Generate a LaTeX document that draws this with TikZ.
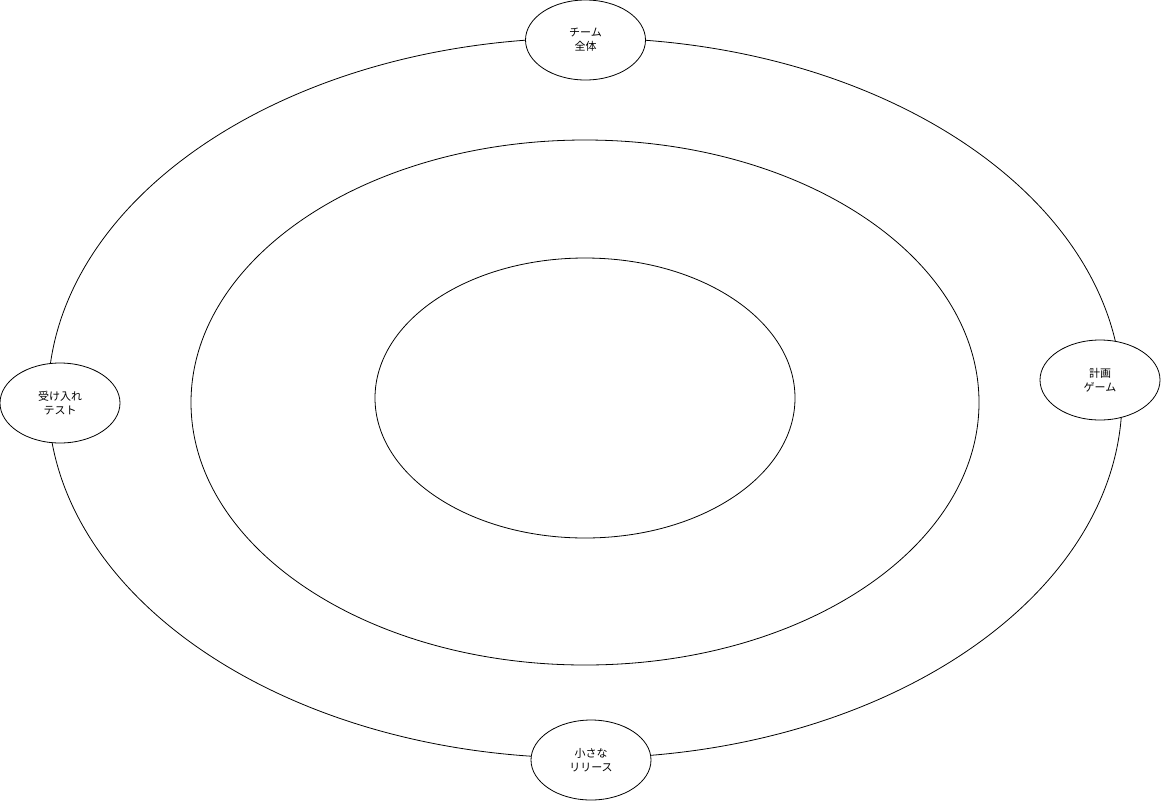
\documentclass[tikz,border=0pt]{standalone}
\usepackage{fontspec}
\setmainfont{Noto Sans CJK JP}
\usetikzlibrary{shapes.geometric}
\tikzset{
  ring/.style={draw=black,line width=0.8pt},
  practice/.style={ellipse,draw=black,fill=white,line width=0.8pt,
    minimum width=120pt,minimum height=80pt,inner sep=0pt,align=center,
    font=\fontsize{11}{14}\selectfont}
}

\begin{document}
\begin{tikzpicture}[x=1pt,y=-1pt,line cap=round]
  \useasboundingbox (0,0) rectangle (1161,801);
  \coordinate (C) at (585,398);
  \draw[ring] (C) ellipse [x radius=537,y radius=360];
  \draw[ring] (585,402.5) ellipse [x radius=394,y radius=262.5];
  \draw[ring] (C) ellipse [x radius=210,y radius=140];
  \node[practice] (team) at (585.5,40) {チーム\\全体};
  \node[practice] (plan) at (1100,380) {計画\\ゲーム};
  \node[practice] (test) at (60,403) {受け入れ\\テスト};
  \node[practice] (release) at (591,760) {小さな\\リリース};
\end{tikzpicture}
\end{document}
